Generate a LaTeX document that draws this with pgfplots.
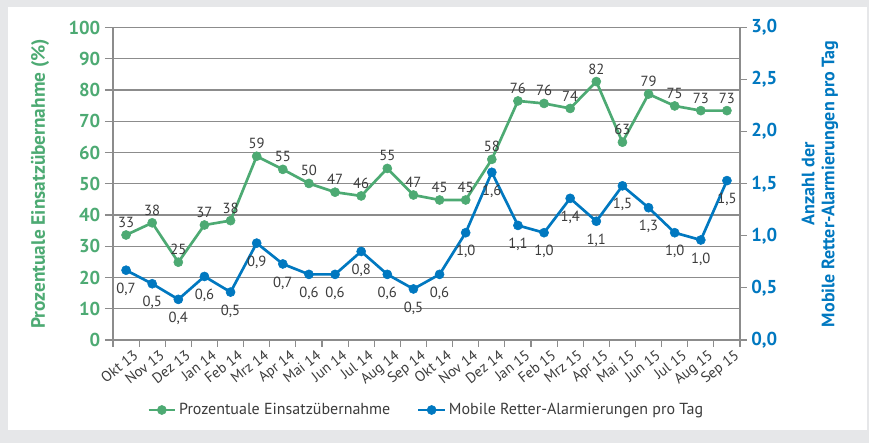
\documentclass[border=0pt]{standalone}
\usepackage{pgfplots}
\usepackage{pgfplotstable}
\pgfplotsset{compat=1.18}
\usepackage{fontspec}
\setmainfont{PT Sans}
\definecolor{cgreen}{RGB}{77,170,115}
\definecolor{cblue}{RGB}{0,120,192}
\definecolor{cgrid}{RGB}{140,140,140}
\definecolor{cbg}{RGB}{230,231,233}
\definecolor{clab}{RGB}{60,60,60}
\pgfplotstableread{
x g gl b bl
0 33.6 33 0.67 0.7
1 37.5 38 0.54 0.5
2 24.9 25 0.39 0.4
3 36.8 37 0.61 0.6
4 38.2 38 0.46 0.5
5 58.8 59 0.93 0.9
6 54.6 55 0.73 0.7
7 50.1 50 0.63 0.6
8 47.3 47 0.63 0.6
9 46.1 46 0.85 0.8
10 54.9 55 0.63 0.6
11 46.4 47 0.49 0.5
12 44.8 45 0.63 0.6
13 44.8 45 1.03 1.0
14 57.8 58 1.61 1.6
15 76.5 76 1.10 1.1
16 75.7 76 1.03 1.0
17 74.1 74 1.36 1.4
18 82.7 82 1.14 1.1
19 63.3 63 1.48 1.5
20 78.7 79 1.27 1.3
21 74.9 75 1.03 1.0
22 73.4 73 0.96 1.0
23 73.4 73 1.53 1.5
}\data
\begin{document}
\begin{tikzpicture}
\fill[cbg] (0,0) rectangle (651.75pt,332.25pt);
\fill[white] (6pt,9.75pt) rectangle (650pt,327pt);
\pgfplotsset{
  common/.style={
    at={(84.75pt,77.25pt)}, anchor=south west,
    width=470.25pt, height=234.375pt, scale only axis,
    xmin=-0.5, xmax=23.5, clip=false,
    axis line style={cgrid, line width=0.8pt, -},
    tick style={cgrid, line width=0.8pt},
    tick align=outside,
  }
}
\begin{axis}[common,
  ymin=0, ymax=100,
  axis x line*=bottom, axis y line*=left,
  ytick={0,10,...,100}, ymajorgrids,
  grid style={cgrid, line width=0.8pt},
  major tick length=6pt, minor tick length=5pt,
  xtick={0,...,23},
  xticklabels={Okt 13,Nov 13,Dez 13,Jan 14,Feb 14,Mrz 14,Apr 14,Mai 14,Jun 14,Jul 14,Aug 14,Sep 14,Okt 14,Nov 14,Dez 14,Jan 15,Feb 15,Mrz 15,Apr 15,Mai 15,Jun 15,Jul 15,Aug 15,Sep 15},
  major x tick style={draw=none},
  minor xtick={-0.5,0.5,...,23.5},
  x tick label style={rotate=38, anchor=north east, font=\fontsize{11}{12}\selectfont, text=clab, inner sep=0.5pt, xshift=4pt, yshift=-3pt},
  y tick label style={font=\bfseries\fontsize{14}{16}\selectfont, text=cgreen, /pgf/number format/assume math mode=true},
  ylabel={Prozentuale Einsatzübernahme (\%)},
  ylabel style={font=\bfseries\fontsize{14.5}{16}\selectfont, text=cgreen, at={(axis description cs:-0.1164,0.5)}, anchor=center},
]
\addplot[cgreen, line width=2pt, mark=*, mark size=3.4pt, mark options={solid, line width=0.4pt},
  nodes near coords={\pgfmathprintnumber[fixed,precision=0,assume math mode=true]{\pgfplotspointmeta}},
  point meta=explicit,
  nodes near coords style={font=\fontsize{11}{12}\selectfont, text=clab, anchor=south, yshift=2pt}]
  table[x=x, y=g, meta=gl]{\data};
\end{axis}
\begin{axis}[common,
  ymin=0, ymax=3,
  axis x line=none, axis y line*=right,
  major tick length=5pt,
  ytick={0,0.5,...,3},
  y tick label style={font=\bfseries\fontsize{14}{16}\selectfont, text=cblue, /pgf/number format/.cd, fixed, fixed zerofill, precision=1, use comma, assume math mode=true},
  ylabel={Anzahl der\\Mobile Retter-Alarmierungen pro Tag},
  ylabel style={font=\bfseries\fontsize{13.5}{15}\selectfont, text=cblue, align=center, at={(axis description cs:1.1276,0.5)}, anchor=center},
  legend columns=2,
  legend image code/.code={\draw[#1] (0cm,0cm) -- (0.7cm,0cm); \draw[#1, only marks] plot coordinates {(0.35cm,0cm)};},
  legend style={at={(axis description cs:0.5,-0.224)}, anchor=center, draw=none, fill=none, font=\fontsize{12}{13}\selectfont, text=clab, /tikz/every even column/.append style={column sep=18pt}},
]
\addlegendimage{cgreen, line width=2pt, mark=*, mark size=3.4pt, mark options={solid, line width=0.4pt}}
\addlegendentry{Prozentuale Einsatzübernahme}
\addplot[cblue, line width=2pt, mark=*, mark size=3.4pt, mark options={solid, line width=0.4pt},
  nodes near coords={\pgfmathprintnumber[fixed,fixed zerofill,precision=1,use comma,assume math mode=true]{\pgfplotspointmeta}},
  point meta=explicit,
  nodes near coords style={font=\fontsize{11}{12}\selectfont, text=clab, anchor=north, yshift=-6pt}]
  table[x=x, y=b, meta=bl]{\data};
\addlegendentry{Mobile Retter-Alarmierungen pro Tag}
\end{axis}
\pgfresetboundingbox
\useasboundingbox (0,0) rectangle (651.75pt,332.25pt);
\end{tikzpicture}
\end{document}
